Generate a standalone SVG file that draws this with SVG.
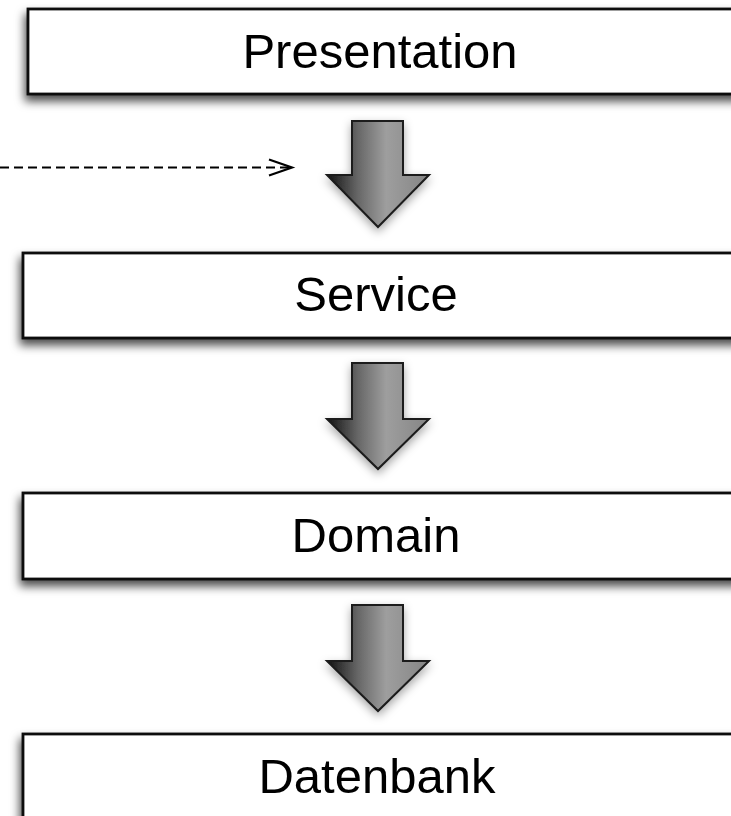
<svg xmlns="http://www.w3.org/2000/svg" width="731" height="816" viewBox="0 0 731 816">
  <style>
    .box { fill: #ffffff; stroke: #111111; stroke-width: 2.8; filter: url(#boxShadow); }
    .label { font-family: "Liberation Sans", Arial, Helvetica, sans-serif; font-size: 49px; fill: #000000; text-anchor: middle; }
    .flow { fill: url(#arrowGrad); stroke: #1a1a1a; stroke-width: 2; stroke-linejoin: miter; filter: url(#arrowShadow); }
    .dash { fill: none; stroke: #000000; stroke-width: 2.2; stroke-dasharray: 9 5; }
    .head { fill: none; stroke: #000000; stroke-width: 2.2; }
  </style>
  <defs>
    <filter id="boxShadow" x="-10%" y="-30%" width="120%" height="170%">
      <feDropShadow dx="-2" dy="6" stdDeviation="5" flood-color="#000000" flood-opacity="0.7"/>
    </filter>
    <filter id="arrowShadow" x="-40%" y="-30%" width="180%" height="170%">
      <feDropShadow dx="0" dy="4" stdDeviation="5" flood-color="#000000" flood-opacity="0.35"/>
    </filter>
    <linearGradient id="arrowGrad" x1="0" y1="0" x2="1" y2="0">
      <stop offset="0" stop-color="#111111"/>
      <stop offset="0.3" stop-color="#666666"/>
      <stop offset="0.58" stop-color="#9e9e9e"/>
      <stop offset="1" stop-color="#858585"/>
    </linearGradient>
  </defs>
  <rect width="731" height="816" fill="#ffffff"/>

  <g id="connectors">
    <g id="flow1">
      <path class="flow" d="M352,121 L403,121 L403,175 L429,175 L378,227 L327,175 L352,175 Z"/>
    </g>
    <g id="flow2">
      <path class="flow" d="M352,363 L403,363 L403,419 L429,419 L378,469 L327,419 L352,419 Z"/>
    </g>
    <g id="flow3">
      <path class="flow" d="M352,605 L403,605 L403,661 L429,661 L378,711 L327,661 L352,661 Z"/>
    </g>
    <g id="dashed">
      <line class="dash" x1="0" y1="167.5" x2="290" y2="167.5"/>
      <polyline class="head" points="269,159.5 292,167.5 269,175.5"/>
    </g>
  </g>

  <g id="presentation">
    <rect class="box" x="28" y="9" width="720" height="85"/>
    <text class="label" x="380" y="68">Presentation</text>
  </g>
  <g id="service">
    <rect class="box" x="23" y="253" width="720" height="85"/>
    <text class="label" x="376" y="311">Service</text>
  </g>
  <g id="domain">
    <rect class="box" x="23" y="493" width="720" height="86"/>
    <text class="label" x="376" y="552">Domain</text>
  </g>
  <g id="datenbank">
    <rect class="box" x="23" y="734" width="720" height="100"/>
    <text class="label" x="377" y="793">Datenbank</text>
  </g>
</svg>
